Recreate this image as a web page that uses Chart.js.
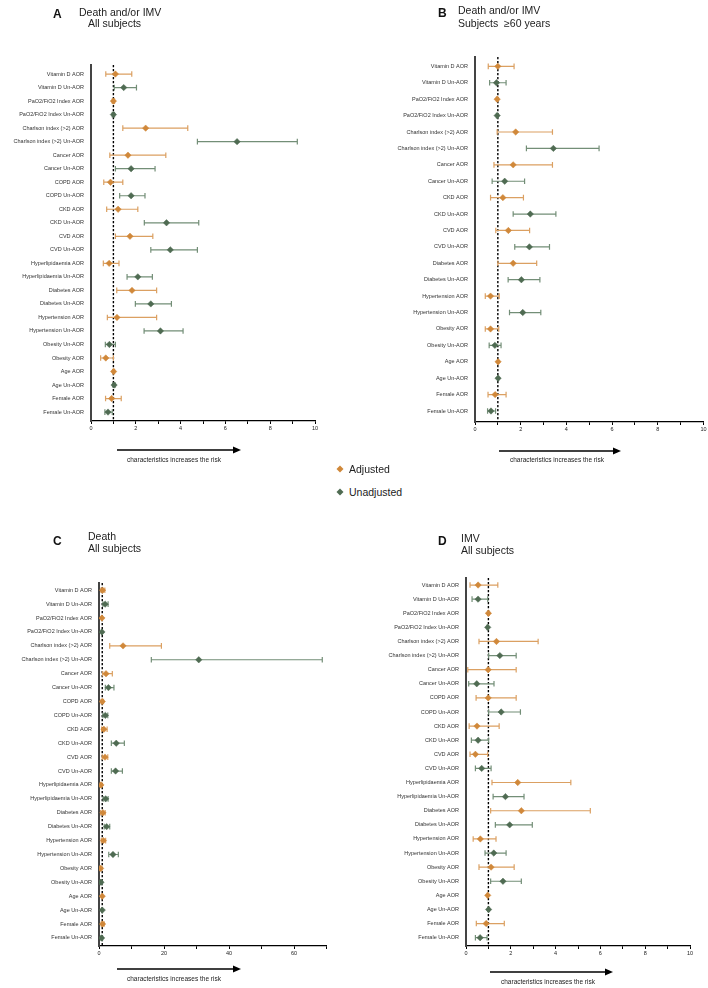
<!DOCTYPE html>
<html><head><meta charset="utf-8">
<script src="https://cdn.jsdelivr.net/npm/chart.js@4"></script>
<style>
html,body{margin:0;padding:0;background:#fff;}
body{width:708px;height:988px;position:relative;overflow:hidden;font-family:'Liberation Sans',Arial,sans-serif;}
canvas{position:absolute;}
.t{position:absolute;font-size:10.5px;color:#222;line-height:12px;white-space:nowrap;}
.k{position:absolute;font-size:12px;font-weight:bold;color:#111;line-height:14px;}
.c{position:absolute;font-size:6.5px;color:#222;line-height:8px;white-space:nowrap;}
.g{position:absolute;font-size:10.5px;color:#222;line-height:12px;white-space:nowrap;}
svg{position:absolute;left:0;top:0;}
</style></head>
<body>
<canvas id="cA" width="354" height="460" style="left:0;top:0"></canvas>
<canvas id="cB" width="354" height="460" style="left:354px;top:0"></canvas>
<canvas id="cC" width="354" height="468" style="left:0;top:520px"></canvas>
<canvas id="cD" width="354" height="468" style="left:354px;top:520px"></canvas>

<div class="k" style="left:53px;top:7px">A</div>
<div class="t" style="left:79px;top:6px">Death and/or IMV</div>
<div class="t" style="left:88px;top:17px">All subjects</div>
<div class="k" style="left:438px;top:6px">B</div>
<div class="t" style="left:458px;top:4px">Death and/or IMV</div>
<div class="t" style="left:458px;top:17px">Subjects&nbsp;&nbsp;≥60 years</div>
<div class="k" style="left:53px;top:534px">C</div>
<div class="t" style="left:88px;top:530px">Death</div>
<div class="t" style="left:88px;top:542px">All subjects</div>
<div class="k" style="left:438px;top:534px">D</div>
<div class="t" style="left:461px;top:532px">IMV</div>
<div class="t" style="left:461px;top:544px">All subjects</div>

<div class="c" style="left:127px;top:456px">characteristics increases the risk</div>
<div class="c" style="left:510px;top:456px">characteristics increases the risk</div>
<div class="c" style="left:127px;top:975px">characteristics increases the risk</div>
<div class="c" style="left:501px;top:978px">characteristics increases the risk</div>

<div class="g" style="left:349px;top:463px">Adjusted</div>
<div class="g" style="left:349px;top:486px">Unadjusted</div>

<svg width="708" height="988">
  <g stroke="#000" stroke-width="1.5">
    <line x1="117" y1="450" x2="236" y2="450"/>
    <line x1="499" y1="451" x2="616" y2="451"/>
    <line x1="117" y1="969" x2="236" y2="969"/>
    <line x1="490" y1="972" x2="608" y2="972"/>
  </g>
  <g fill="#000">
    <polygon points="241,450 233,446.5 233,453.5"/>
    <polygon points="621,451 613,447.5 613,454.5"/>
    <polygon points="241,969 233,965.5 233,972.5"/>
    <polygon points="613,972 605,968.5 605,975.5"/>
  </g>
  <polygon points="340,465.5 343.5,469 340,472.5 336.5,469" fill="#D0883A"/>
  <polygon points="340,488.5 343.5,492 340,495.5 336.5,492" fill="#4F6B52"/>
</svg>

<script>
// ---------- DATA ----------
const labelsA = ["Vitamin D AOR","Vitamin D Un-AOR","PaO2/FiO2 Index AOR","PaO2/FiO2 Index Un-AOR","Charlson index (>2) AOR","Charlson index (>2) Un-AOR","Cancer AOR","Cancer Un-AOR","COPD AOR","COPD Un-AOR","CKD AOR","CKD Un-AOR","CVD AOR","CVD Un-AOR","Hyperlipidaemia AOR","Hyperlipidaemia Un-AOR","Diabetes AOR","Diabetes Un-AOR","Hypertension AOR","Hypertension Un-AOR","Obesity Un-AOR","Obesity AOR","Age AOR","Age Un-AOR","Female AOR","Female Un-AOR"];
const orA = [1.09,1.46,1.0,1.0,2.44,6.52,1.65,1.79,0.87,1.79,1.21,3.37,1.74,3.54,0.81,2.09,1.83,2.67,1.16,3.10,0.82,0.66,1.01,1.03,0.92,0.76];
const loA = [0.66,1.04,0.95,0.95,1.42,4.75,0.84,1.09,0.57,1.28,0.70,2.38,1.09,2.67,0.55,1.61,1.15,1.98,0.73,2.37,0.64,0.43,0.97,0.98,0.65,0.62];
const hiA = [1.82,2.03,1.05,1.05,4.32,9.21,3.34,2.86,1.42,2.41,2.09,4.81,2.76,4.75,1.25,2.74,2.93,3.59,2.93,4.11,1.09,1.00,1.05,1.08,1.35,0.95];

const labelsB = ["Vitamin D AOR","Vitamin D Un-AOR","PaO2/FiO2 Index AOR","PaO2/FiO2 Index Un-AOR","Charlson index (>2) AOR","Charlson index (>2) Un-AOR","Cancer AOR","Cancer Un-AOR","CKD AOR","CKD Un-AOR","CVD AOR","CVD Un-AOR","Diabetes AOR","Diabetes Un-AOR","Hypertension AOR","Hypertension Un-AOR","Obesity AOR","Obesity Un-AOR","Age AOR","Age Un-AOR","Female AOR","Female Un-AOR"];
const orB = [1.0,0.94,0.97,0.97,1.78,3.43,1.67,1.30,1.22,2.42,1.46,2.38,1.67,2.03,0.68,2.09,0.68,0.87,1.01,1.01,0.88,0.70];
const loB = [0.58,0.64,0.94,0.94,0.97,2.25,0.83,0.75,0.68,1.67,0.91,1.74,1.00,1.45,0.45,1.51,0.45,0.62,0.99,0.99,0.57,0.55];
const hiB = [1.71,1.36,1.00,1.00,3.39,5.43,3.39,2.17,2.12,3.54,2.39,3.26,2.70,2.84,1.06,2.88,1.04,1.14,1.03,1.03,1.36,0.90];

const labelsC = ["Vitamin D AOR","Vitamin D Un-AOR","PaO2/FiO2 Index AOR","PaO2/FiO2 Index Un-AOR","Charlson index (>2) AOR","Charlson index (>2) Un-AOR","Cancer AOR","Cancer Un-AOR","COPD AOR","COPD Un-AOR","CKD AOR","CKD Un-AOR","CVD AOR","CVD Un-AOR","Hyperlipidaemia AOR","Hyperlipidaemia Un-AOR","Diabetes AOR","Diabetes Un-AOR","Hypertension AOR","Hypertension Un-AOR","Obesity AOR","Obesity Un-AOR","Age AOR","Age Un-AOR","Female AOR","Female Un-AOR"];
const orC = [1.1,1.9,0.9,0.9,7.4,30.7,2.15,2.9,1.0,1.95,1.5,5.3,1.85,5.1,0.6,2.05,1.2,2.35,1.35,4.3,0.5,0.6,1.0,1.0,1.1,0.8];
const loC = [0.6,1.2,0.8,0.8,3.3,16.1,1.13,1.95,0.7,1.2,0.8,3.8,1.0,3.8,0.4,1.3,0.5,1.6,0.7,3.0,0.3,0.4,0.95,0.95,0.7,0.6];
const hiC = [1.8,2.8,1.0,1.0,19.2,68.7,4.1,4.6,1.4,2.7,2.5,7.8,2.7,7.2,0.9,2.8,1.9,3.3,2.05,5.95,0.9,0.95,1.05,1.05,1.6,1.1];

const labelsD = labelsC.slice();
const orD = [0.54,0.54,1.0,0.97,1.36,1.51,0.99,0.48,0.99,1.57,0.49,0.54,0.42,0.70,2.31,1.76,2.47,1.95,0.64,1.24,1.12,1.65,0.97,1.01,0.90,0.63];
const loD = [0.18,0.27,0.97,0.94,0.58,1.01,0.08,0.12,0.45,1.01,0.14,0.24,0.18,0.42,1.16,1.21,1.10,1.31,0.32,0.85,0.58,1.10,0.95,0.99,0.46,0.42];
const hiD = [1.42,0.97,1.03,1.00,3.22,2.24,2.24,1.25,2.24,2.43,1.48,1.01,0.97,1.12,4.68,2.59,5.55,2.96,1.34,1.79,2.15,2.47,0.99,1.03,1.71,0.94];

const xLabelsSmall = [0,2,4,6,8,10];
const xLabelsC = [0,20,40,60];
const refValue = 1;

// ---------- STYLE ----------
const ORANGE = '#D0883A', ORANGE_L = '#DBA062', GREEN = '#4F6B52', GREEN_L = '#738E77';
Chart.defaults.font.family = "'Liberation Sans', Arial, sans-serif";
Chart.defaults.color = '#333';

const forestPlugin = {
  id: 'forest',
  beforeDatasetsDraw(chart) {
    const {ctx, chartArea: a, scales: {x}} = chart;
    // reference dashed line
    const xr = x.getPixelForValue(refValue);
    ctx.save();
    ctx.strokeStyle = '#000'; ctx.lineWidth = 1.4; ctx.setLineDash([2.2, 1.8]);
    ctx.beginPath(); ctx.moveTo(xr, a.top); ctx.lineTo(xr, a.bottom); ctx.stroke();
    ctx.restore();
    // confidence intervals
    chart.data.datasets.forEach((ds, di) => {
      const meta = chart.getDatasetMeta(di);
      meta.data.forEach((el, j) => {
        const d = ds.data[j];
        const x1 = x.getPixelForValue(d.lo), x2 = x.getPixelForValue(d.hi), y = el.y;
        ctx.save();
        ctx.strokeStyle = ds.errColor; ctx.lineWidth = 1.2;
        ctx.beginPath();
        ctx.moveTo(x1, y); ctx.lineTo(x2, y);
        ctx.moveTo(x1, y - 2.8); ctx.lineTo(x1, y + 2.8);
        ctx.moveTo(x2, y - 2.8); ctx.lineTo(x2, y + 2.8);
        ctx.stroke();
        ctx.restore();
      });
    });
  }
};

function forest(id, labels, or, lo, hi, o) {
  const adj = [], un = [];
  labels.forEach((lab, i) => {
    const p = {x: or[i], y: i, lo: lo[i], hi: hi[i]};
    (lab.includes('Un-AOR') ? un : adj).push(p);
  });
  const tickPos = [];
  for (let v = 0; v <= o.xMax + 1e-9; v += o.minor) tickPos.push(+v.toFixed(6));
  new Chart(document.getElementById(id), {
    type: 'scatter',
    data: {
      datasets: [
        {label: 'Adjusted', data: adj, pointStyle: 'rectRot', pointRadius: 3.2, backgroundColor: ORANGE, borderColor: ORANGE, borderWidth: 0.5, errColor: ORANGE_L},
        {label: 'Unadjusted', data: un, pointStyle: 'rectRot', pointRadius: 3.2, backgroundColor: GREEN, borderColor: GREEN, borderWidth: 0.5, errColor: GREEN_L}
      ]
    },
    options: {
      responsive: false, animation: false, devicePixelRatio: 1,
      layout: {padding: {top: o.padTop, right: o.padRight, left: 0, bottom: 0}},
      plugins: {legend: {display: false}, tooltip: {enabled: false}},
      scales: {
        x: {
          type: 'linear', min: 0, max: o.xMax,
          afterBuildTicks: s => { s.ticks = tickPos.map(v => ({value: v})); },
          afterFit: s => { s.height = o.xH; },
          ticks: {callback: v => o.xLabels.includes(v) ? String(v) : '', autoSkip: false, maxRotation: 0, minRotation: 0, font: {size: 5.5}, padding: 1, color: '#222'},
          grid: {display: true, drawOnChartArea: false, drawTicks: true, tickLength: 3, color: '#000', lineWidth: 1},
          border: {display: true, color: '#000', width: 1.3}
        },
        y: {
          type: 'linear', reverse: true, min: o.yMin, max: o.yMax,
          afterBuildTicks: s => { s.ticks = labels.map((_, i) => ({value: i})); },
          afterFit: s => { s.width = o.axisW; },
          ticks: {callback: v => labels[v], autoSkip: false, font: {size: 5.5}, padding: 7, color: '#333'},
          grid: {display: true, drawOnChartArea: false, drawTicks: false, color: 'rgba(0,0,0,0)'},
          border: {display: true, color: '#444', width: 2}
        }
      }
    },
    plugins: [forestPlugin]
  });
}

forest('cA', labelsA, orA, loA, hiA, {xMax: 10, minor: 1, xLabels: xLabelsSmall, yMin: -0.67, yMax: 25.66, axisW: 91, xH: 39, padTop: 65, padRight: 39});
forest('cB', labelsB, orB, loB, hiB, {xMax: 10, minor: 1, xLabels: xLabelsSmall, yMin: -0.57, yMax: 21.67, axisW: 121, xH: 38, padTop: 57, padRight: 3});
forest('cC', labelsC, orC, loC, hiC, {xMax: 70, minor: 10, xLabels: xLabelsC, yMin: -0.52, yMax: 25.58, axisW: 99, xH: 42, padTop: 63, padRight: 27.5});
forest('cD', labelsD, orD, loD, hiD, {xMax: 10, minor: 1, xLabels: xLabelsSmall, yMin: -0.5, yMax: 25.59, axisW: 112, xH: 42, padTop: 58, padRight: 18});
</script>
</body></html>
